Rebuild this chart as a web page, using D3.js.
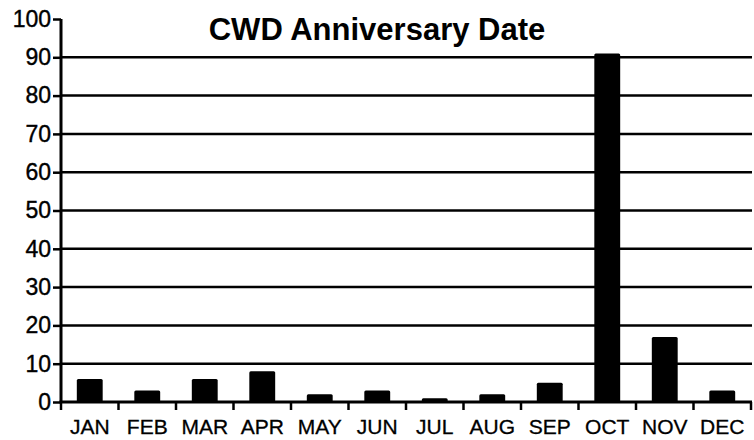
<!DOCTYPE html>
<html>
<head>
<meta charset="utf-8">
<script src="https://cdn.jsdelivr.net/npm/d3@7"></script>
<style>
  html, body { margin: 0; padding: 0; background: #fff; }
  svg { display: block; }
  text { font-family: "Liberation Sans", Arial, sans-serif; fill: #000; }
</style>
</head>
<body>
<svg id="chart" width="754" height="440"></svg>
<script>
const months = ["JAN","FEB","MAR","APR","MAY","JUN","JUL","AUG","SEP","OCT","NOV","DEC"];
const counts = [6, 3, 6, 8, 2, 3, 1, 2, 5, 91, 17, 3];
const yTicks = [0, 10, 20, 30, 40, 50, 60, 70, 80, 90, 100];
const gridValues = [10, 20, 30, 40, 50, 60, 70, 80, 90];
const titleText = "CWD Anniversary Date";

const svg = d3.select("#chart");
const mLeft = 61, mRight = 751, mTop = 19, mBottom = 402;

const x = d3.scaleBand().domain(months).range([mLeft, mRight])
  .paddingInner(0.55).paddingOuter(0.275);
const y = d3.scaleLinear().domain([0, 100]).range([mBottom, mTop]);

// gridlines
svg.append("g").selectAll("line").data(gridValues).join("line")
  .attr("x1", mLeft).attr("x2", mRight + 1)
  .attr("y1", d => y(d)).attr("y2", d => y(d))
  .attr("stroke", "#000").attr("stroke-width", 2.5);

// bars
svg.append("g").selectAll("rect").data(months).join("rect")
  .attr("x", d => x(d))
  .attr("width", x.bandwidth())
  .attr("y", (d, i) => y(counts[i]))
  .attr("height", (d, i) => y(0) - y(counts[i]))
  .attr("rx", 1.5)
  .attr("fill", "#000");

// y axis
const yAxis = svg.append("g")
  .attr("transform", `translate(${mLeft},0)`)
  .call(d3.axisLeft(y).tickValues(yTicks).tickSize(8).tickPadding(2).tickFormat(d3.format("d")));
yAxis.select(".domain").attr("stroke", "#000").attr("stroke-width", 3)
  .attr("d", `M0,${mTop}V${mBottom + 1}`);
yAxis.selectAll(".tick line").attr("stroke", "#000").attr("stroke-width", 2.5);
yAxis.selectAll(".tick text").attr("font-size", 23).attr("fill", "#000")
  .attr("stroke", "#000").attr("stroke-width", 0.4)
  .style("font-family", "'Liberation Sans', Arial, sans-serif");

// x axis line
svg.append("line")
  .attr("x1", mLeft - 1.5).attr("x2", mRight + 1)
  .attr("y1", y(0)).attr("y2", y(0))
  .attr("stroke", "#000").attr("stroke-width", 3);

// x boundary ticks
const boundaries = d3.range(months.length + 1);
svg.append("g").selectAll("line").data(boundaries).join("line")
  .attr("x1", i => x.range()[0] + i * x.step())
  .attr("x2", i => x.range()[0] + i * x.step())
  .attr("y1", y(0)).attr("y2", y(0) + 8)
  .attr("stroke", "#000").attr("stroke-width", 2.5);

// x labels
svg.append("g").selectAll("text").data(months).join("text")
  .attr("x", d => x(d) + x.bandwidth() / 2)
  .attr("y", 434)
  .attr("text-anchor", "middle")
  .attr("font-size", 21)
  .attr("stroke", "#000").attr("stroke-width", 0.3)
  .text(d => d);

// title
svg.append("text")
  .attr("x", 377).attr("y", 40)
  .attr("text-anchor", "middle")
  .attr("font-size", 31)
  .attr("font-weight", "bold")
  .text(titleText);
</script>
</body>
</html>
